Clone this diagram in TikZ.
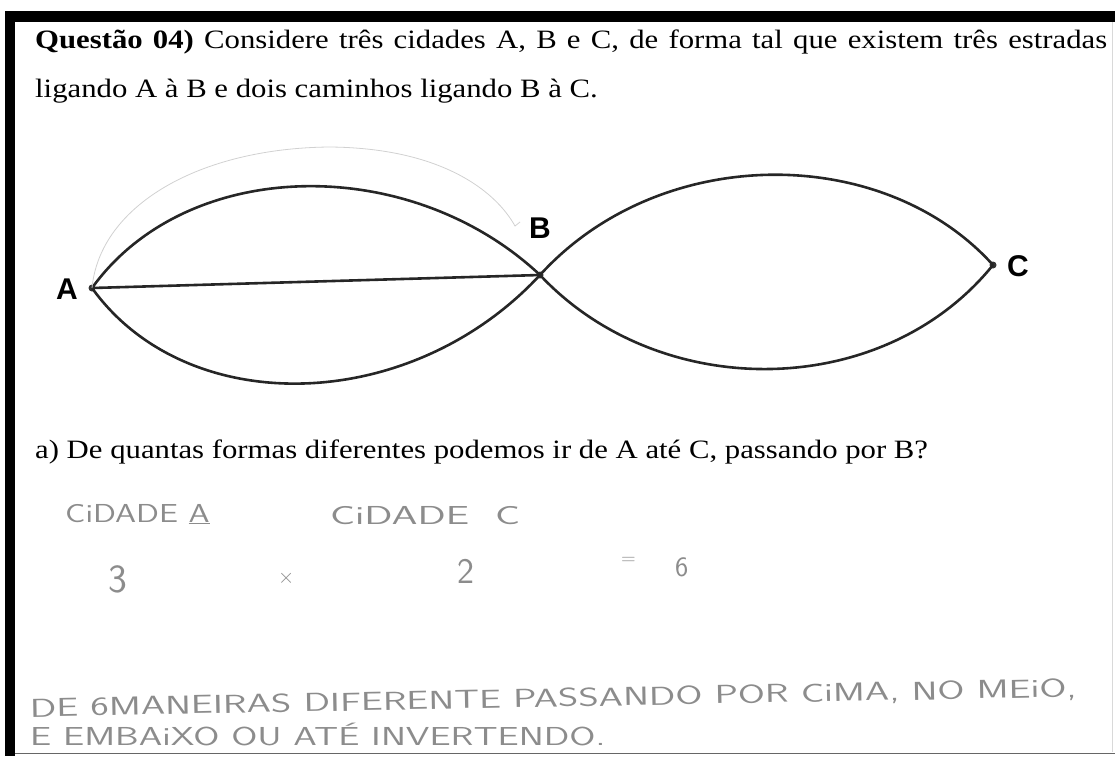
\documentclass[tikz,border=0pt]{standalone}
\usepackage{fontspec}
\setmainfont{Liberation Serif}[FakeStretch=1.16]
\newfontfamily\labelfont{Liberation Sans}
\usetikzlibrary{calc}

\begin{document}
\begin{tikzpicture}[
    x=1pt, y=-1pt,
    road/.style={line width=2.6pt, black!85},
    faint/.style={line width=0.8pt, black!18},
    city/.style={circle, fill=black!80, inner sep=0pt, minimum size=7pt},
    citylabel/.style={font=\labelfont\bfseries\fontsize{30}{30}\selectfont},
    prose/.style={anchor=base west, inner sep=0pt, font=\fontsize{26.5}{28}\selectfont},
    hand/.style={anchor=base west, inner sep=0pt, black!45,
                 font=\sffamily\fontsize{26}{28}\selectfont\addfontfeatures{LetterSpace=40}}
  ]
  \useasboundingbox (0,0) rectangle (1115,756);

  % frame
  \fill[black] (5,11) rectangle (1115,22);
  \fill[black] (5,11) rectangle (15,756);
  \draw[black!60, line width=1pt] (15,753) -- (1115,753);
  \draw[black!15, line width=0.8pt] (1112,22) -- (1112,752);

  % statement
  \node[prose] (line1) at (35,48) {\makebox[1072pt][s]{\textbf{Questão 04)} Considere três cidades A, B e C, de forma tal que existem três estradas}};
  \node[prose] (line2) at (35,97) {ligando A à B e dois caminhos ligando B à C.};

  % cities
  \node[city] (A) at (92,288) {};
  \node[city] (B) at (540,275) {};
  \node[city] (C) at (993,265) {};
  \node[citylabel] (labA) at (67,289) {A};
  \node[citylabel] (labB) at (540,228) {B};
  \node[citylabel] (labC) at (1018,266) {C};

  % roads A-B
  \draw[road] (A.center) .. controls +(95,-132) and +(-130,-122) .. (B.center);
  \draw[road] (A.center) -- (B.center);
  \draw[road] (A.center) .. controls +(95,132) and +(-130,140) .. (B.center);
  % roads B-C
  \draw[road] (B.center) .. controls +(120,-132) and +(-110,-122) .. (C.center);
  \draw[road] (B.center) .. controls +(120,128) and +(-110,136) .. (C.center);
  % pencil stroke over the upper road
  \draw[faint] (A.center) .. controls (100,205) and (200,148) .. (330,147)
    .. controls (440,148) and (495,190) .. (515,226) -- (520,222);

  % question
  \node[prose] (qa) at (35,458) {a) De quantas formas diferentes podemos ir de A até C, passando por B?};

  % handwritten answer
  \node[hand] (cidA) at (65,522) {\scalebox{1.3}[1]{CiDADE \underline{A}}};
  \node[hand] (cidC) at (330,524) {\scalebox{1.6}[1]{CiDADE\ \ C}};
  \node[hand, font=\sffamily\fontsize{40}{40}\selectfont] (three) at (108,592) {3};
  \node[hand, font=\sffamily\fontsize{22}{22}\selectfont] (times) at (278,583) {$\times$};
  \node[hand, font=\sffamily\fontsize{36}{36}\selectfont] (two) at (457,583) {2};
  \node[hand, font=\sffamily\fontsize{20}{20}\selectfont] (eq) at (621,564) {=};
  \node[hand, font=\sffamily\fontsize{28}{28}\selectfont] (six) at (675,576) {6};
  \node[hand, rotate=1.1] (ans1) at (30,717) {\scalebox{1.5}[1]{DE 6MANEIRAS DIFERENTE PASSANDO POR CiMA, NO MEiO,}};
  \node[hand] (ans2) at (30,745) {\scalebox{1.45}[1]{E EMBAiXO OU ATÉ INVERTENDO.}};
\end{tikzpicture}
\end{document}
